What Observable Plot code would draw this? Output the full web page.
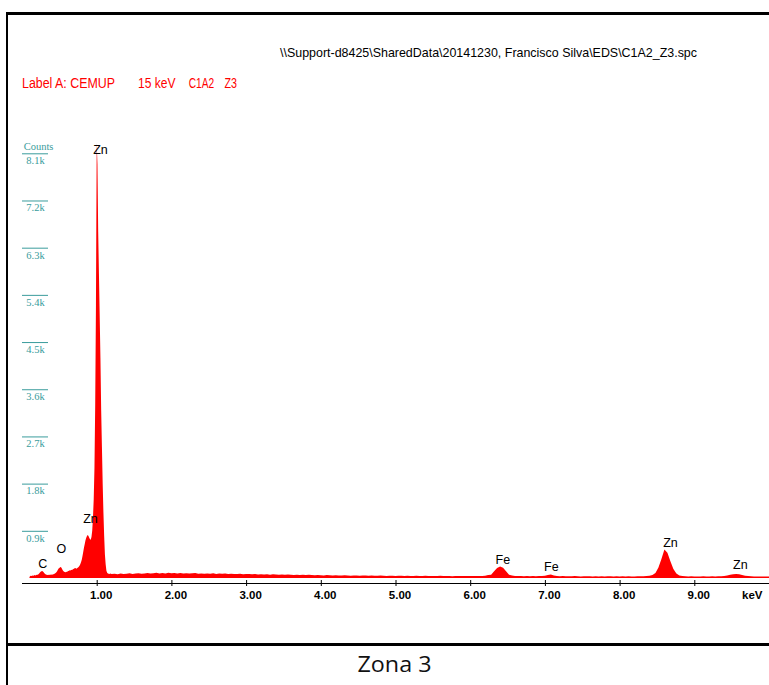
<!DOCTYPE html>
<html>
<head>
<meta charset="utf-8">
<script src="https://cdn.jsdelivr.net/npm/d3@7"></script>
<script src="https://cdn.jsdelivr.net/npm/@observablehq/plot@0.6"></script>
<style>
  html, body { margin: 0; padding: 0; background: #fff; overflow: hidden; }
  #chart { width: 769px; height: 685px; position: relative; overflow: hidden; }
  .bar { position: absolute; background: #000; }
</style>
</head>
<body>
<div id="chart">
  <div class="bar" style="left:6px; top:12px; width:763px; height:3px;"></div>
  <div class="bar" style="left:6px; top:12px; width:2px; height:673px;"></div>
  <div class="bar" style="left:6px; top:643px; width:763px; height:3px;"></div>
</div>
<script>
const headerPath = "\\\\Support-d8425\\SharedData\\20141230, Francisco Silva\\EDS\\C1A2_Z3.spc";
const labelParts = ["Label A: CEMUP", "15 keV", "C1A2", "Z3"];
const caption = "Zona 3";
const lowStart = 0.10, lowStep = 0.01;
const lowCounts = [
  20, 40, 45, 40, 50, 45, 50, 55, 50, 55,
  60, 60, 70, 85, 105, 120, 130, 135, 125, 110,
  90, 75, 65, 60, 55, 60, 58, 62, 60, 65,
  62, 68, 70, 75, 85, 95, 110, 130, 155, 180,
  190, 205, 210, 190, 160, 140, 125, 115, 110, 115,
  120, 125, 135, 140, 150, 145, 155, 150, 165, 170,
  180, 190, 185, 175, 190, 200, 215, 235, 260, 300,
  350, 420, 500, 580, 650, 720, 770, 800, 820, 800,
  770, 740, 730, 780, 900, 1150, 1500, 2100, 3300, 5200,
  8300, 7900, 6600, 5800, 5000, 4200, 3200, 2500, 1800, 1250,
  800, 450, 260, 140, 100, 85, 80, 75, 85, 80,
  78
];
const highStart = 1.24, highStep = 0.04;
const highCounts = [
  80, 72, 85, 78, 82, 90, 76, 84, 92, 80, 88, 95, 84, 90, 98, 86, 94, 88, 100, 92,
  96, 88, 94, 86, 92, 84, 90, 95, 83, 88, 80, 86, 82, 90, 78, 84, 80, 86, 76, 82, 78, 74, 80, 72, 78,
  74, 70, 76, 68, 72, 66, 73, 64, 70, 66, 62, 68, 60, 65, 62, 58, 64, 57, 61, 55, 60, 56, 52, 58, 54,
  50, 56, 52, 48, 54, 50, 46, 52, 48, 45, 50, 47, 44, 49, 46, 42, 47, 44, 41, 46, 43, 40, 45, 42, 40,
  44, 41, 38, 43, 40, 37, 42, 39, 36, 41, 38, 40, 36, 39, 42, 37, 40, 38, 35, 39, 37, 40, 36, 38, 37,
  39, 36, 38, 40, 45, 55, 60, 130, 190, 220, 195, 130, 60, 48, 38, 36, 39, 35, 37, 34, 38, 35, 36, 38, 42,
  55, 65, 48, 38, 34, 36, 33, 35, 32, 36, 33, 31, 35, 32, 34, 30, 33, 31, 34, 30, 32, 35, 31, 33, 30,
  32, 29, 33, 30, 31, 34, 32, 35, 38, 42, 55, 95, 200, 360, 545, 480, 320, 170, 85, 48, 38, 33, 31, 33, 30,
  31, 28, 32, 29, 30, 33, 30, 32, 35, 40, 50, 62, 72, 75, 70, 58, 45, 36, 32, 29, 31, 28, 30, 27, 29
];
const yTicks = [900, 1800, 2700, 3600, 4500, 5400, 6300, 7200, 8100];
const yTickLabels = ["0.9k", "1.8k", "2.7k", "3.6k", "4.5k", "5.4k", "6.3k", "7.2k", "8.1k"];
const xTicks = [1, 2, 3, 4, 5, 6, 7, 8, 9];
const xTickLabels = ["1.00", "2.00", "3.00", "4.00", "5.00", "6.00", "7.00", "8.00", "9.00"];
const peakNames = ["C", "O", "Zn", "Zn", "Fe", "Fe", "Zn", "Zn"];
const peakEnergy = [0.27, 0.52, 0.91, 1.044, 6.43, 7.08, 8.675, 9.61];
const peakLabelCounts = [286, 572, 1144, 8170, 362, 215, 668, 248];

const spectrum = [
  ...lowCounts.map((c, i) => ({e: +(lowStart + i * lowStep).toFixed(3), c})),
  ...highCounts.map((c, i) => ({e: +(highStart + i * highStep).toFixed(3), c}))
];
const peaks = peakNames.map((n, i) => ({n, e: peakEnergy[i], c: peakLabelCounts[i]}));
const yT = yTicks.map((v, i) => ({v, t: yTickLabels[i]}));
const xT = xTicks.map((v, i) => ({v, t: xTickLabels[i]}));
const teal = "#3a9c9c";

const svg = Plot.plot({
  width: 769, height: 685,
  marginLeft: 22, marginRight: 0, marginTop: 153.3, marginBottom: 107,
  x: {domain: [0, 10], label: null},
  y: {domain: [0, 8100], axis: null},
  style: {background: "transparent", fontFamily: "Liberation Sans", overflow: "hidden", position: "absolute", left: "0px", top: "0px"},
  marks: [
    Plot.areaY(spectrum, {x: "e", y: "c", fill: "#ff0000", curve: "linear"}),
    Plot.ruleY(yT, {y: "v", stroke: teal, strokeWidth: 1, insetRight: 721}),
    Plot.text(yT, {x: () => 0, y: "v", text: "t", dx: 13, dy: 7, fill: teal, fontFamily: "Liberation Serif", fontSize: 10.5}),
    Plot.text(["Counts"], {x: () => 0, y: () => 8100, text: d => d, dx: 16, dy: -7, fill: teal, fontFamily: "Liberation Serif", fontSize: 10.5}),
    Plot.ruleY([0], {dy: 5, stroke: "black", strokeWidth: 1}),
    Plot.axisX(xTicks, {tickSize: 6, dy: 2, tickFormat: () => "", label: null, stroke: "black"}),
    Plot.text(xT, {x: "v", text: "t", frameAnchor: "bottom", dx: 4, dy: 20, fontWeight: "bold", fontSize: 11.5, fill: "black"}),
    Plot.text(["keV"], {text: d => d, frameAnchor: "bottom-right", textAnchor: "end", dx: -7, dy: 20, fontWeight: "bold", fontSize: 11.5, fill: "black"}),
    Plot.text(peaks, {x: "e", y: "c", text: "n", fontSize: 12.5, fill: "black"})
  ]
});
document.getElementById("chart").appendChild(svg);

const s = d3.select(svg);
const g = s.append("g").attr("text-anchor", "start");
g.append("text").attr("x", 280).attr("y", 56.5).attr("text-anchor", "start")
  .attr("font-family", "Liberation Sans Narrow, Liberation Sans, Arial, sans-serif")
  .attr("font-size", 13).attr("fill", "black").attr("textLength", 417).attr("lengthAdjust", "spacingAndGlyphs").text(headerPath);
const labelBoxes = [[22, 93], [138, 37.5], [188.7, 25.5], [224.5, 12.5]];
labelParts.forEach((t, i) => {
  g.append("text").attr("x", labelBoxes[i][0]).attr("y", 88).attr("text-anchor", "start")
    .attr("font-family", "Liberation Sans Narrow, Liberation Sans, Arial, sans-serif")
    .attr("font-size", 14).attr("fill", "#ff0000").attr("textLength", labelBoxes[i][1]).attr("lengthAdjust", "spacingAndGlyphs").text(t);
});
g.append("text").attr("x", 394.5).attr("y", 671.5).attr("text-anchor", "middle")
  .attr("font-family", "Open Sans, Liberation Sans, sans-serif")
  .attr("font-size", 21).attr("fill", "#111").attr("textLength", 74).attr("lengthAdjust", "spacingAndGlyphs").text(caption);
</script>
</body>
</html>
